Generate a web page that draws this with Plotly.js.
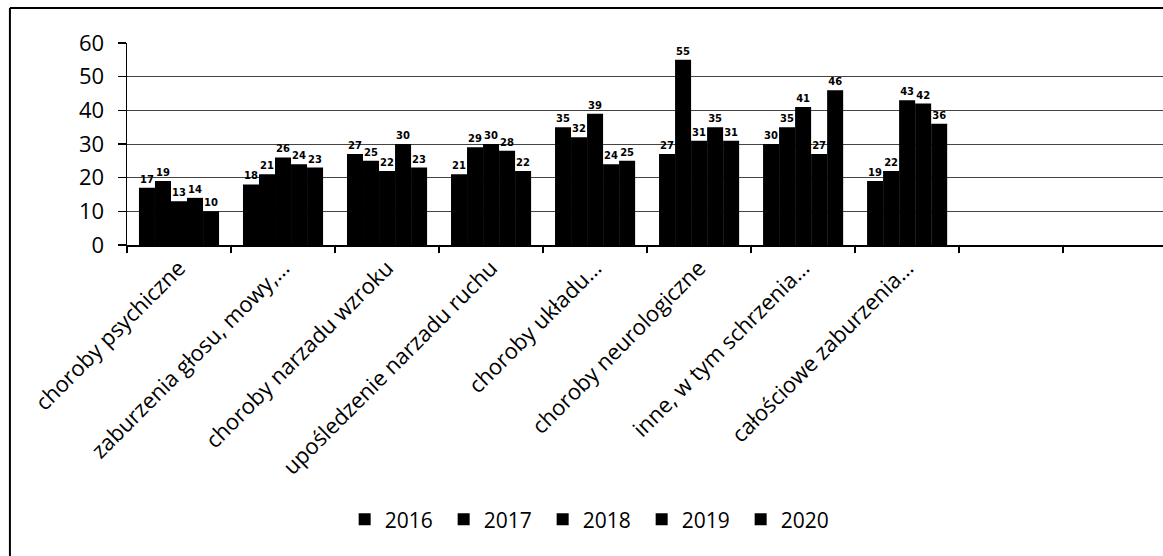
<!DOCTYPE html>
<html>
<head>
<meta charset="utf-8">
<script src="https://cdn.plot.ly/plotly-3.0.1.min.js"></script>
<style>html,body{margin:0;padding:0;background:#fff;}#chart{width:1163px;height:556px;}</style>
</head>
<body>
<div id="chart"></div>
<script>
const categories = [
  "choroby psychiczne",
  "zaburzenia głosu, mowy,…",
  "choroby narzadu wzroku",
  "upośledzenie narzadu ruchu",
  "choroby układu…",
  "choroby neurologiczne",
  "inne, w tym schrzenia…",
  "całościowe zaburzenia…"
];
const emptySlots = [" ", "  "];
const years = ["2016", "2017", "2018", "2019", "2020"];
const v2016 = [17, 18, 27, 21, 35, 27, 30, 19];
const v2017 = [19, 21, 25, 29, 32, 55, 35, 22];
const v2018 = [13, 26, 22, 30, 39, 31, 41, 43];
const v2019 = [14, 24, 30, 28, 24, 35, 27, 42];
const v2020 = [10, 23, 23, 22, 25, 31, 46, 36];
const seriesValues = [v2016, v2017, v2018, v2019, v2020];
const yTicks = [0, 10, 20, 30, 40, 50, 60];

const xAll = categories.concat(emptySlots);
const traces = years.map((yr, i) => ({
  type: "bar",
  name: yr,
  x: xAll,
  y: seriesValues[i].concat(emptySlots.map(() => null)),
  text: seriesValues[i].map(String).concat(emptySlots.map(() => "")),
  textposition: "outside",
  textfont: {family: "DejaVu Sans", size: 10, color: "#000", weight: "bold"},
  constraintext: "none",
  cliponaxis: false,
  marker: {color: "#000", line: {width: 0}},
  hoverinfo: "skip"
}));

const font = "Open Sans, sans-serif";
const layout = {
  width: 1163, height: 556,
  margin: {l: 127, r: 0, t: 43, b: 311, pad: 0},
  paper_bgcolor: "#fff", plot_bgcolor: "#fff",
  font: {family: font, size: 22, color: "#000"},
  barmode: "group", bargap: 0.23, bargroupgap: 0,
  showlegend: true,
  legend: {
    orientation: "h", x: 0.449, xanchor: "center", y: -1.36, yanchor: "middle",
    font: {family: font, size: 21, color: "#000"},
    itemwidth: 30, entrywidth: 54, entrywidthmode: "pixels",
    traceorder: "normal", bgcolor: "rgba(0,0,0,0)"
  },
  xaxis: {
    type: "category", categoryorder: "array", categoryarray: xAll,
    range: [-0.5, 9.46], fixedrange: true,
    showline: true, linecolor: "#000", linewidth: 1.5,
    ticks: "outside", ticklen: 6, tickcolor: "#000", tickwidth: 1.5,
    tickson: "boundaries", tickangle: -45,
    tickfont: {family: font, size: 22, color: "#000"},
    showgrid: false, zeroline: false, automargin: false
  },
  yaxis: {
    range: [0, 60], tickvals: yTicks, ticktext: yTicks.map(String), fixedrange: true,
    showline: true, linecolor: "#000", linewidth: 1.5,
    ticks: "outside", ticklen: 8, tickcolor: "#000", tickwidth: 1.2,
    ticklabelstandoff: 9,
    tickfont: {family: font, size: 22, color: "#000"},
    showgrid: true, gridcolor: "#444", gridwidth: 1,
    zeroline: false, automargin: false
  },
  shapes: [
    {type: "line", xref: "paper", yref: "paper", x0: -0.113, x1: 1.01, y0: 1.173, y1: 1.173,
     line: {color: "#000", width: 2}},
    {type: "line", xref: "paper", yref: "paper", x0: -0.113, x1: -0.113, y0: 1.173, y1: -1.6,
     line: {color: "#000", width: 2}}
  ]
};

Plotly.newPlot("chart", traces, layout, {displayModeBar: false, staticPlot: true});
</script>
</body>
</html>
